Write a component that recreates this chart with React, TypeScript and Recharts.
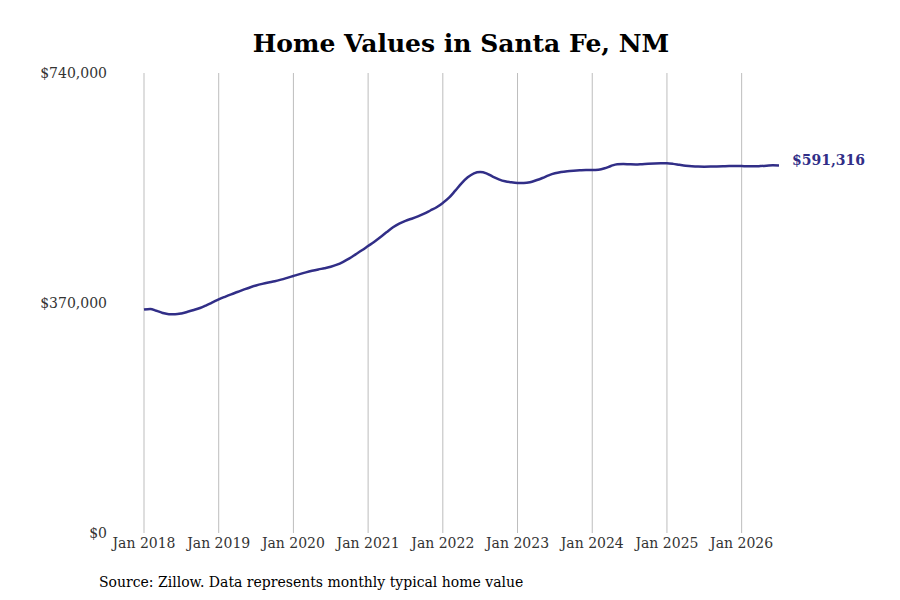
import React from "react";
import { LineChart, Line, XAxis, YAxis, ReferenceLine } from "recharts";

const startYear = 2018;
const tickYears = [2018, 2019, 2020, 2021, 2022, 2023, 2024, 2025, 2026];
const yTicks = [0, 370000, 740000];

// Monthly typical home value, Jan 2018 – Jul 2026
const values2018 = [359500, 360500, 357500, 354000, 352000, 351800, 353200, 355800, 358700, 362000, 366300, 371000];
const values2019 = [375800, 380000, 384000, 387700, 391400, 395000, 398200, 400800, 403000, 405000, 407600, 410500];
const values2020 = [413500, 416500, 419300, 421800, 424000, 426000, 428300, 431600, 436300, 441900, 448300, 454800];
const values2021 = [461700, 468600, 476200, 484200, 491800, 497800, 502200, 505600, 509300, 513600, 518800, 524000];
const values2022 = [531000, 539400, 550700, 562500, 572200, 578600, 580700, 578600, 573400, 569000, 565800, 564200];
const values2023 = [563200, 563000, 564200, 567400, 571100, 575400, 578600, 580600, 581900, 582800, 583500, 584000];
const values2024 = [584000, 584500, 586700, 590400, 593300, 593600, 593100, 592800, 593400, 594100, 594600, 594800];
const values2025 = [594700, 593800, 592300, 590900, 589900, 589400, 589300, 589400, 589700, 590000, 590300, 590400];
const values2026 = [590200, 589900, 589900, 590300, 590900, 591600, 591316];

const allValues = [
  ...values2018, ...values2019, ...values2020, ...values2021, ...values2022,
  ...values2023, ...values2024, ...values2025, ...values2026,
];

const data = allValues.map((v, i) => ({ m: i, value: v }));
const xTicks = tickYears.map((y) => (y - startYear) * 12);
const lastIndex = data.length - 1;

const LINE_COLOR = "#312e87";
const FONT = "'DejaVu Serif', serif";

const fmtMoney = (v: number) => "$" + Math.round(v).toLocaleString("en-US");

const EndLabel = (props: any) => {
  const { x, y, index, value } = props;
  if (index !== lastIndex) return null;
  return (
    <text
      x={x + 13}
      y={y - 5}
      dy="0.355em"
      fill={LINE_COLOR}
      fontFamily={FONT}
      fontWeight="bold"
      fontSize={14}
    >
      {fmtMoney(value)}
    </text>
  );
};

export default function App() {
  return (
    <div style={{ position: "absolute", left: 0, top: 0, width: 900, height: 600, background: "#fff" }}>
      <div
        style={{
          position: "absolute",
          left: 0,
          top: 29,
          width: 922,
          textAlign: "center",
          fontFamily: FONT,
          fontWeight: "bold",
          fontSize: 25,
          lineHeight: "30px",
          color: "#000",
        }}
      >
        Home Values in Santa Fe, NM
      </div>
      <LineChart
        width={900}
        height={600}
        data={data}
        margin={{ top: 73, right: 121, bottom: 37, left: 0 }}
      >
        <XAxis
          dataKey="m"
          type="number"
          domain={[0, lastIndex]}
          ticks={xTicks}
          tickFormatter={(v: number) => `Jan ${startYear + v / 12}`}
          axisLine={false}
          tickLine={false}
          tickSize={0}
          tickMargin={5}
          height={30}
          tick={{ fill: "#333", fontFamily: FONT, fontSize: 14 }}
          interval={0}
        />
        <YAxis
          domain={[0, 740000]}
          ticks={yTicks}
          tickFormatter={fmtMoney}
          axisLine={false}
          tickLine={false}
          tickSize={0}
          tickMargin={37}
          width={144}
          tick={{ fill: "#333", fontFamily: FONT, fontSize: 14 }}
          interval={0}
        />
        {xTicks.map((t) => (
          <ReferenceLine key={t} x={t} stroke="#bdbdbd" strokeWidth={1} />
        ))}
        <Line
          type="monotone"
          dataKey="value"
          stroke={LINE_COLOR}
          strokeWidth={2.5}
          dot={false}
          isAnimationActive={false}
          label={<EndLabel />}
        />
      </LineChart>
      <div
        style={{
          position: "absolute",
          left: 99,
          top: 572,
          fontFamily: FONT,
          fontSize: 14,
          lineHeight: "20px",
          color: "#000",
          whiteSpace: "nowrap",
        }}
      >
        Source: Zillow. Data represents monthly typical home value
      </div>
    </div>
  );
}
